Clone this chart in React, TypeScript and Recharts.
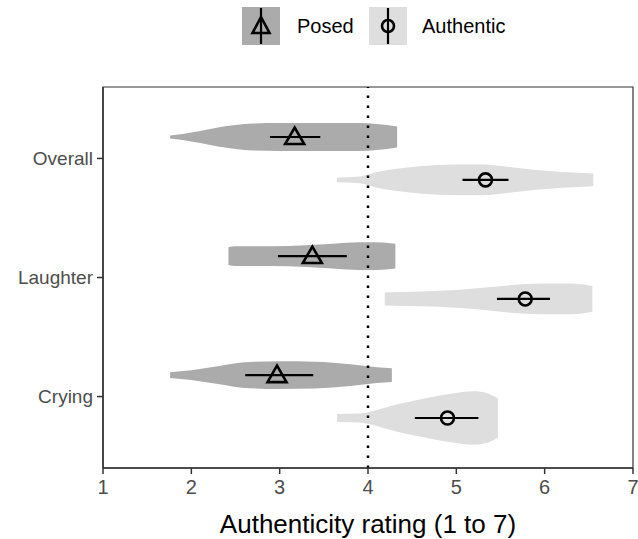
import {
  ComposedChart,
  Area,
  Scatter,
  ErrorBar,
  XAxis,
  YAxis,
  ReferenceLine,
  ReferenceArea,
  Label,
} from "recharts";

// categories, top to bottom
const categories = ["Overall", "Laughter", "Crying"];
const groups = ["Posed", "Authentic"];

// mean rating and 95% CI per category (Overall, Laughter, Crying)
const posedMean = [3.17, 3.37, 2.97];
const posedLow = [2.89, 2.98, 2.61];
const posedHigh = [3.46, 3.76, 3.38];

const authenticMean = [5.33, 5.78, 4.9];
const authenticLow = [5.07, 5.46, 4.53];
const authenticHigh = [5.59, 6.06, 5.25];

// violin outlines: rating value and density (half width, relative)
const posedOverallX = [1.76, 1.9, 2.1, 2.3, 2.5, 2.7, 3.0, 3.5, 3.9, 4.1, 4.33];
const posedOverallD = [1.5, 3, 6, 9.5, 12, 13.5, 14, 14, 14, 13, 10.5];
const authenticOverallX = [3.65, 3.9, 4.1, 4.4, 4.7, 5.0, 5.3, 5.6, 5.9, 6.2, 6.55];
const authenticOverallD = [2.5, 3.5, 8, 12, 14.5, 15.5, 15.5, 13, 10, 8, 6.5];

const posedLaughterX = [2.42, 2.5, 2.9, 3.3, 3.6, 3.9, 4.1, 4.31];
const posedLaughterD = [9, 10, 10, 11, 12.5, 14, 14, 12.5];
const authenticLaughterX = [4.19, 4.6, 5.0, 5.4, 5.7, 6.0, 6.3, 6.54];
const authenticLaughterD = [6.5, 7.5, 9, 12, 14.5, 15.5, 15.5, 13];

const posedCryingX = [1.76, 2.0, 2.3, 2.6, 3.0, 3.4, 3.8, 4.1, 4.27];
const posedCryingD = [3, 5, 9, 13, 14, 13.5, 11, 8, 7];
const authenticCryingX = [3.65, 3.9, 4.1, 4.3, 4.6, 4.9, 5.2, 5.35, 5.47];
const authenticCryingD = [4, 4.5, 8, 13, 19, 24, 27, 25, 20];

const xTicks = [1, 2, 3, 4, 5, 6, 7];

const POSED = "#ABABAB";
const AUTH = "#DEDEDE";
const FONT = "'Liberation Sans', Arial, Helvetica, sans-serif";
const DODGE = 0.18;
const DENS_SCALE = 120; // density units per y unit

const catPos = (i: number) => categories.length - i;

function violin(xs: number[], ds: number[], catIndex: number, offset: number) {
  const c = catPos(catIndex) + offset;
  return xs.map((x, i) => ({
    x,
    band: [c - ds[i] / DENS_SCALE, c + ds[i] / DENS_SCALE],
  }));
}

const violins = [
  { data: violin(posedOverallX, posedOverallD, 0, DODGE), fill: POSED },
  { data: violin(authenticOverallX, authenticOverallD, 0, -DODGE), fill: AUTH },
  { data: violin(posedLaughterX, posedLaughterD, 1, DODGE), fill: POSED },
  { data: violin(authenticLaughterX, authenticLaughterD, 1, -DODGE), fill: AUTH },
  { data: violin(posedCryingX, posedCryingD, 2, DODGE), fill: POSED },
  { data: violin(authenticCryingX, authenticCryingD, 2, -DODGE), fill: AUTH },
];

const posedPoints = categories.map((_, i) => ({
  x: posedMean[i],
  y: catPos(i) + DODGE,
  err: [posedMean[i] - posedLow[i], posedHigh[i] - posedMean[i]],
}));
const authenticPoints = categories.map((_, i) => ({
  x: authenticMean[i],
  y: catPos(i) - DODGE,
  err: [authenticMean[i] - authenticLow[i], authenticHigh[i] - authenticMean[i]],
}));

const Triangle = (props: any) => {
  const { cx, cy } = props;
  return (
    <path
      d={`M${cx - 9.5},${cy + 7} L${cx + 9.5},${cy + 7} L${cx},${cy - 9.5} Z`}
      fill="none"
      stroke="#000"
      strokeWidth={2.6}
    />
  );
};

const Circle = (props: any) => {
  const { cx, cy } = props;
  return <circle cx={cx} cy={cy} r={6.5} fill="none" stroke="#000" strokeWidth={2.6} />;
};

function LegendBox() {
  return (
    <svg
      width={638}
      height={52}
      style={{ position: "absolute", left: 0, top: 0, display: "block" }}
    >
      <rect x={242} y={7} width={38} height={38} fill={POSED} />
      <line x1={261} y1={8} x2={261} y2={44} stroke="#000" strokeWidth={2.2} />
      <path d="M252.5,33 L269.5,33 L261,17 Z" fill="none" stroke="#000" strokeWidth={2.6} />
      <text x={297} y={33} fontSize={20} fontFamily={FONT} fill="#000">
        {groups[0]}
      </text>
      <rect x={369} y={7} width={38} height={38} fill={AUTH} />
      <line x1={388} y1={8} x2={388} y2={44} stroke="#000" strokeWidth={2.2} />
      <circle cx={388} cy={26} r={6} fill="none" stroke="#000" strokeWidth={2.6} />
      <text x={422} y={33} fontSize={20} fontFamily={FONT} fill="#000">
        {groups[1]}
      </text>
    </svg>
  );
}

export default function App() {
  return (
    <div
      style={{
        position: "relative",
        width: 638,
        height: 539,
        background: "#fff",
        fontFamily: FONT,
      }}
    >
      <style>{`body{margin:0}`}</style>
      <ComposedChart
        width={638}
        height={539}
        margin={{ top: 87, right: 5, bottom: 0, left: 0 }}
      >
        <XAxis
          type="number"
          dataKey="x"
          domain={[1, 7]}
          ticks={xTicks}
          allowDataOverflow
          height={71}
          tickSize={6}
          tickMargin={6}
          axisLine={{ stroke: "#333", strokeWidth: 1.5 }}
          tickLine={{ stroke: "#333", strokeWidth: 1.5 }}
          tick={{ fontSize: 20, fill: "#4D4D4D", fontFamily: FONT }}
        >
          <Label
            value="Authenticity rating (1 to 7)"
            position="insideBottom"
            offset={6}
            style={{ fontSize: 26, fill: "#000", fontFamily: FONT }}
          />
        </XAxis>
        <YAxis
          type="number"
          dataKey="y"
          domain={[0.4, 3.6]}
          ticks={[1, 2, 3]}
          allowDataOverflow
          width={103}
          tickSize={6}
          tickMargin={4}
          tickFormatter={(v: number) => categories[categories.length - v]}
          axisLine={{ stroke: "#333", strokeWidth: 1.5 }}
          tickLine={{ stroke: "#333", strokeWidth: 1.5 }}
          tick={{ fontSize: 19, fill: "#4D4D4D", fontFamily: FONT }}
        />
        <ReferenceArea
          x1={1}
          x2={7}
          y1={0.4}
          y2={3.6}
          fill="none"
          stroke="#333"
          strokeWidth={1.2}
          ifOverflow="visible"
        />
        {violins.map((v, i) => (
          <Area
            key={i}
            data={v.data}
            dataKey="band"
            type="monotone"
            stroke="none"
            fill={v.fill}
            fillOpacity={1}
            isAnimationActive={false}
            activeDot={false}
            dot={false}
          />
        ))}
        <ReferenceLine
          x={4}
          stroke="#000"
          strokeWidth={2.5}
          strokeDasharray="2.5 7.5"
        />
        <Scatter data={posedPoints} shape={<Triangle />} isAnimationActive={false}>
          <ErrorBar dataKey="err" direction="x" width={0} stroke="#000" strokeWidth={2.2} />
        </Scatter>
        <Scatter data={authenticPoints} shape={<Circle />} isAnimationActive={false}>
          <ErrorBar dataKey="err" direction="x" width={0} stroke="#000" strokeWidth={2.2} />
        </Scatter>
      </ComposedChart>
      <LegendBox />
    </div>
  );
}
